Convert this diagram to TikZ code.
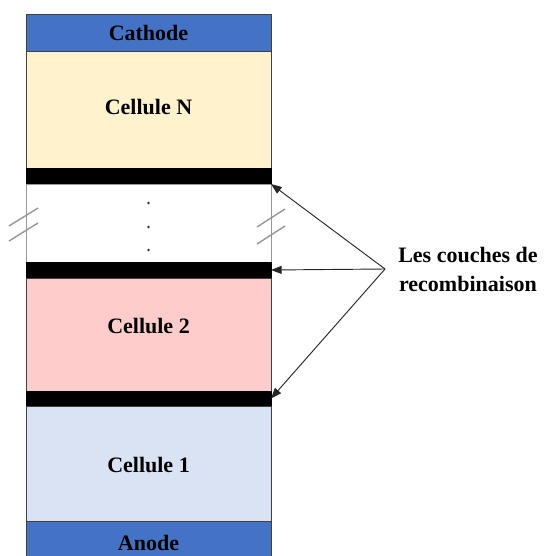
\documentclass[tikz,border=0pt]{standalone}
\usepackage{fontspec}
\setmainfont{Liberation Serif}
\usetikzlibrary{arrows.meta}
\definecolor{elecblue}{HTML}{4472C4}
\definecolor{cellN}{HTML}{FFF2CC}
\definecolor{cellB}{HTML}{FFCCCC}
\definecolor{cellA}{HTML}{DAE3F3}
\definecolor{edge}{HTML}{404040}
\tikzset{
  layer/.style={draw=edge, line width=0.6pt, minimum width=183.75pt, inner sep=0pt, outer sep=0pt,
    font=\fontsize{16.5}{20}\selectfont\bfseries},
  recomb/.style={layer, fill=black, draw=black},
  breakmark/.style={draw=gray!85, line width=1pt},
  pointer/.style={draw=black!85, line width=0.7pt, -{Triangle[length=8pt,width=6pt]}},
}
\begin{document}
\begin{tikzpicture}[x=0.75pt,y=-0.75pt]
\useasboundingbox (0,0) rectangle (543,556);
\node[layer, fill=elecblue, minimum height=37*0.75pt] (cathode) at (148.5,32.5) {Cathode};
\node[layer, fill=cellN, minimum height=117*0.75pt] (celln) at (148.5,109.5) {};
\node (tn) at (148.5,107) {\fontsize{16.5}{20}\selectfont\bfseries Cellule N};
\node[recomb, minimum height=16*0.75pt] (r1) at (148.5,176) {};
\node[layer, draw=gray!80, fill=white, minimum height=78*0.75pt] (gap) at (148.5,223) {};
\node[recomb, minimum height=16*0.75pt] (r2) at (148.5,270) {};
\node[layer, fill=cellB, minimum height=113*0.75pt] (cell2) at (148.5,334.5) {};
\node (t2) at (148.5,326) {\fontsize{16.5}{20}\selectfont\bfseries Cellule 2};
\node[recomb, minimum height=15*0.75pt] (r3) at (148.5,398.5) {};
\node[layer, fill=cellA, minimum height=115*0.75pt] (cell1) at (148.5,463.5) {};
\node (t1) at (148.5,465) {\fontsize{16.5}{20}\selectfont\bfseries Cellule 1};
\node[layer, fill=elecblue, minimum height=39*0.75pt] (anode) at (148.5,540.5) {};
\node (ta) at (148.5,543) {\fontsize{16.5}{20}\selectfont\bfseries Anode};
% dots
\foreach \yy/\nm in {203/d1,227/d2,250/d3}
  \node[circle, fill=black!80, inner sep=0pt, minimum size=2pt] (\nm) at (148.5,\yy) {};
% break marks
\coordinate (bl1a) at (9,226); \coordinate (bl1b) at (38,208);
\coordinate (bl2a) at (9,241); \coordinate (bl2b) at (38,223);
\coordinate (br1a) at (257,227); \coordinate (br1b) at (285,209);
\coordinate (br2a) at (257,244); \coordinate (br2b) at (285,226);
\draw[breakmark] (bl1a) -- (bl1b);
\draw[breakmark] (bl2a) -- (bl2b);
\draw[breakmark] (br1a) -- (br1b);
\draw[breakmark] (br2a) -- (br2b);
% label and pointers
\coordinate (src) at (385,269);
\node[anchor=west, align=center, inner sep=0pt, font=\fontsize{16.5}{21.75}\selectfont\bfseries] (lbl) at (398,269.5) {Les couches de\\recombinaison};
\draw[pointer] (src) -- (r1.south east);
\draw[pointer] (src) -- (r2.east);
\draw[pointer] (src) -- (r3.east);
\end{tikzpicture}
\end{document}
